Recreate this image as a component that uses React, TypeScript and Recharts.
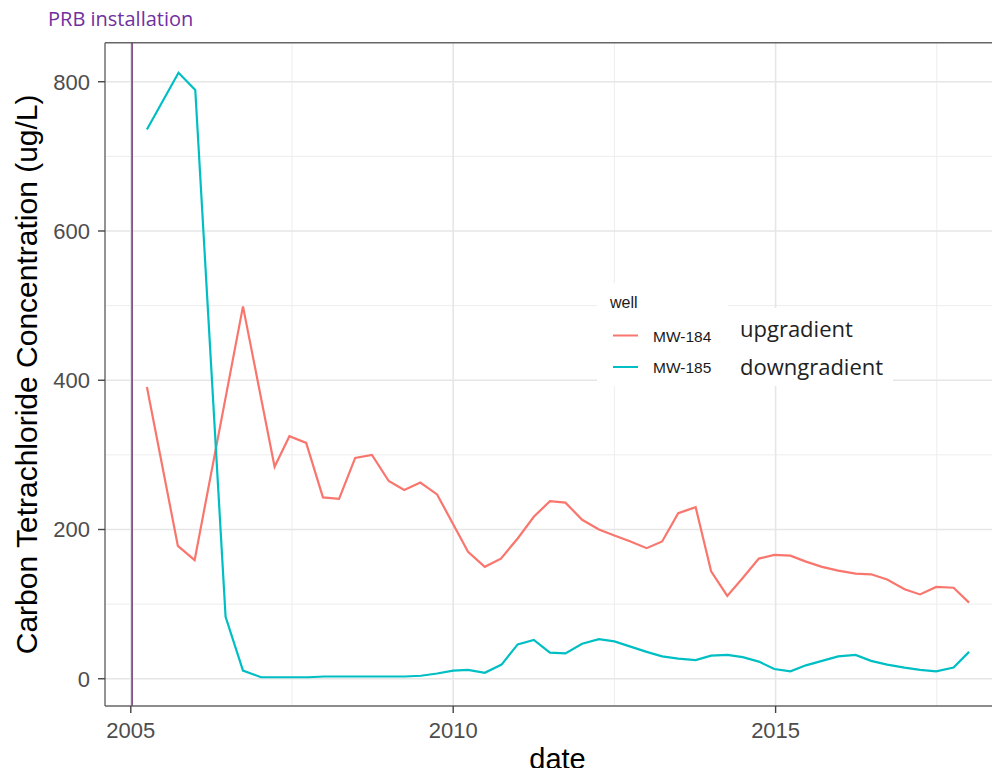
import React from 'react';
import { LineChart, Line, XAxis, YAxis, CartesianGrid, ReferenceLine, Legend } from 'recharts';

const dates184 = [2005.25, 2005.73, 2005.99, 2006.74, 2007.23, 2007.46, 2007.72, 2007.98, 2008.23, 2008.48, 2008.74, 2009.0, 2009.24, 2009.49, 2009.75, 2010.0, 2010.23, 2010.49, 2010.74, 2011.0, 2011.25, 2011.5, 2011.74, 2012.0, 2012.26, 2012.5, 2012.75, 2013.0, 2013.24, 2013.49, 2013.76, 2014.0, 2014.25, 2014.49, 2014.74, 2014.98, 2015.23, 2015.47, 2015.72, 2015.97, 2016.24, 2016.48, 2016.73, 2017.0, 2017.24, 2017.49, 2017.76, 2018.0];
const values184 = [391, 178, 159, 499, 284, 325, 316, 243, 241, 296, 300, 265, 253, 263, 247, 207, 170, 150, 161, 188, 217, 238, 236, 213, 200, 192, 184, 175, 184, 222, 230, 144, 111, 135, 161, 166, 165, 157, 150, 145, 141, 140, 133, 120, 113, 123, 122, 102];

const dates185 = [2005.25, 2005.74, 2006.0, 2006.47, 2006.74, 2007.02, 2007.25, 2007.5, 2007.75, 2008.0, 2008.25, 2008.5, 2008.75, 2009.0, 2009.25, 2009.5, 2009.75, 2010.0, 2010.23, 2010.49, 2010.75, 2011.0, 2011.25, 2011.5, 2011.74, 2012.0, 2012.26, 2012.5, 2012.75, 2013.0, 2013.24, 2013.49, 2013.76, 2014.0, 2014.25, 2014.49, 2014.74, 2014.98, 2015.23, 2015.47, 2015.72, 2015.97, 2016.24, 2016.48, 2016.73, 2017.0, 2017.24, 2017.49, 2017.76, 2018.0];
const values185 = [736, 812, 789, 83, 11, 2, 2, 2, 2, 3, 3, 3, 3, 3, 3, 4, 7, 11, 12, 8, 19, 46, 52, 35, 34, 47, 53, 50, 43, 36, 30, 27, 25, 31, 32, 29, 23, 13, 10, 18, 24, 30, 32, 24, 19, 15, 12, 10, 15, 36];

const seriesNames = ['MW-184', 'MW-185'];
const seriesNotes = ['upgradient', 'downgradient'];
const seriesColors = ['#F8766D', '#00BFC4'];

const yTicks = [0, 200, 400, 600, 800];
const yMinor = [100, 300, 500, 700];
const xTicks = [2005, 2010, 2015];
const xMinor = [2007.5, 2012.5, 2017.5];
const prbDate = 2005.02;
const xDomain = [2004.6, 2018.48];
const yDomain = [-36.5, 852.3];

const data184 = dates184.map((d, i) => ({ date: d, value: values184[i] }));
const data185 = dates185.map((d, i) => ({ date: d, value: values185[i] }));

const AXIS_FONT = '"Liberation Sans", Arial, sans-serif';
const NOTE_FONT = '"Open Sans", "Noto Sans", sans-serif';

function YTitle(props: any) {
  const vb = props.viewBox || { x: 0, y: 0, width: 0, height: 0 };
  const cx = vb.x + 19;
  const cy = vb.y + vb.height / 2;
  return (
    <text x={cx} y={cy} transform={`rotate(-90 ${cx} ${cy})`} textAnchor="middle" dominantBaseline="central"
      fontSize={30} fill="#000" fontFamily={AXIS_FONT}>
      Carbon Tetrachloride Concentration (ug/L)
    </text>
  );
}

function XTitle(props: any) {
  const vb = props.viewBox || { x: 0, y: 0, width: 0, height: 0 };
  return (
    <text x={vb.x + vb.width / 2 + 5} y={vb.y + 63} textAnchor="middle"
      fontSize={29} fill="#000" fontFamily={AXIS_FONT}>
      date
    </text>
  );
}

function LegendBox(props: any) {
  const payload = props.payload || [];
  const items = seriesNames.map((n, i) => {
    const p = payload.find((q: any) => q.value === n);
    return { name: n, note: seriesNotes[i], color: p ? p.color : seriesColors[i] };
  });
  const keyY = [52.5, 84];
  const noteY = [54, 92];
  return (
    <svg width={300} height={105} style={{ display: 'block' }}>
      <rect x={0} y={0} width={131} height={103} fill="#fff" />
      <rect x={130} y={25} width={166} height={78} fill="#fff" />
      <text x={13} y={25} fontSize={16} fill="#1a1a1a" fontFamily={AXIS_FONT}>well</text>
      {items.map((it, i) => (
        <g key={it.name}>
          <line x1={16} x2={41} y1={keyY[i]} y2={keyY[i]} stroke={it.color} strokeWidth={2} />
          <text x={56} y={keyY[i] + 6} fontSize={15.5} fill="#1a1a1a" fontFamily={AXIS_FONT}>{it.name}</text>
          <text x={143} y={noteY[i]} fontSize={22} fill="#222" fontFamily={NOTE_FONT}>{it.note}</text>
        </g>
      ))}
    </svg>
  );
}

export default function App() {
  return (
    <div style={{ width: 992, height: 760, position: 'relative', background: '#fff' }}>
      <div style={{ position: 'absolute', left: 40, top: -1, fontSize: 20, lineHeight: '24px', color: '#7030A0',
        fontFamily: NOTE_FONT, whiteSpace: 'nowrap', zIndex: 2 }}>
        PRB installation
      </div>
      <LineChart width={992} height={768} margin={{ top: 34.7, right: 0, bottom: 0, left: 0 }}>
        <CartesianGrid stroke="#ededed" strokeWidth={1} horizontalValues={yMinor} verticalValues={xMinor} />
        <CartesianGrid stroke="#e6e6e6" strokeWidth={1.6} horizontalValues={yTicks} verticalValues={xTicks} />
        <XAxis type="number" dataKey="date" domain={xDomain} ticks={xTicks} allowDataOverflow height={70}
          tickSize={7} tickMargin={9} axisLine={{ stroke: '#666', strokeWidth: 1.4 }}
          tickLine={{ stroke: '#444', strokeWidth: 1.4 }}
          tick={{ fill: '#4d4d4d', fontSize: 22, fontFamily: AXIS_FONT }} label={<XTitle />} />
        <YAxis type="number" domain={yDomain} ticks={yTicks} allowDataOverflow width={97}
          tickSize={7} tickMargin={8} axisLine={{ stroke: '#666', strokeWidth: 1.4 }}
          tickLine={{ stroke: '#444', strokeWidth: 1.4 }}
          tick={{ fill: '#4d4d4d', fontSize: 22, fontFamily: AXIS_FONT }} label={<YTitle />} />
        <ReferenceLine y={yDomain[1]} stroke="#666" strokeWidth={1.4} ifOverflow="visible" />
        <ReferenceLine x={prbDate} stroke="#6d2f73" strokeWidth={1.5} />
        <Line data={data184} dataKey="value" name={seriesNames[0]} stroke={seriesColors[0]} strokeWidth={2.2}
          dot={false} isAnimationActive={false} />
        <Line data={data185} dataKey="value" name={seriesNames[1]} stroke={seriesColors[1]} strokeWidth={2.2}
          dot={false} isAnimationActive={false} />
        <Legend layout="vertical" align="center" verticalAlign="middle" content={<LegendBox />}
          wrapperStyle={{ left: 589, top: 275, width: 300, height: 105 }} />
      </LineChart>
    </div>
  );
}
